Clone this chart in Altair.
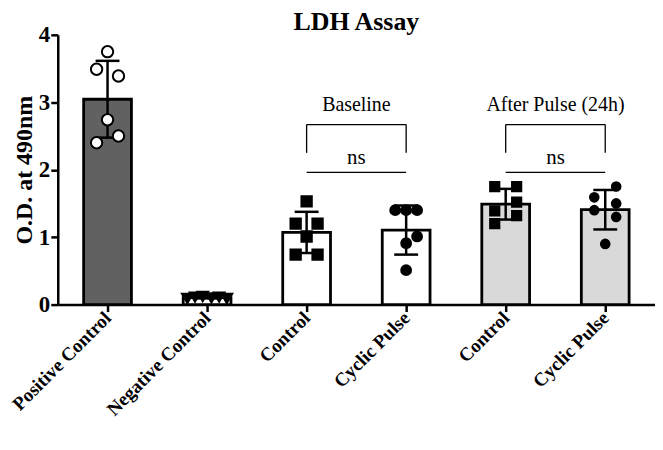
import altair as alt
import pandas as pd

# ---- data ----
groups = ["PC", "NC", "BC", "BP", "AC", "AP"]
group_labels = ["Positive Control", "Negative Control", "Control", "Cyclic Pulse", "Control", "Cyclic Pulse"]
bar_fills = ["#616161", "#ffffff", "#ffffff", "#ffffff", "#d9d9d9", "#d9d9d9"]
point_shapes = ["circle", "triangle-down", "square", "circle", "square", "circle"]
point_fills = ["#ffffff", "#000000", "#000000", "#000000", "#000000", "#000000"]
point_sizes = [130, 75, 160, 140, 160, 140]

pc_vals = [3.75, 3.49, 3.39, 2.74, 2.40, 2.50]
pc_cols = [0, -1, 1, 0, -1, 1]
nc_vals = [0.09, 0.11, 0.12, 0.10, 0.11, 0.09]
nc_cols = [-1.8, -1.1, -0.4, 0.4, 1.1, 1.8]
bc_vals = [1.53, 1.20, 1.20, 1.01, 0.74, 0.74]
bc_cols = [0, -1, 1, 0, -1, 1]
bp_vals = [1.40, 1.40, 1.40, 1.01, 0.91, 0.51]
bp_cols = [-1, 0, 1, 1, 0, 0]
ac_vals = [1.75, 1.75, 1.52, 1.39, 1.32, 1.20]
ac_cols = [-1, 1, 1, -1, 1, -1]
ap_vals = [1.75, 1.59, 1.50, 1.40, 1.30, 0.90]
ap_cols = [1, -1, 1, -1, 1, 0]

# significance brackets (between group indices)
brk_from = [2, 4]
brk_to = [3, 5]
brk_names = ["Baseline", "After Pulse (24h)"]
brk_top = 2.67
brk_leg = 2.25
ns_line = 1.96
ns_text_y = 2.17
name_text_y = 2.96

FONT = "Liberation Serif"
JITTER = 0.11      # horizontal spacing of point columns, in group units
HALF_BAR = 0.24    # half bar width, in group units
HALF_CAP = 0.12    # half error-cap width, in group units

all_vals = [pc_vals, nc_vals, bc_vals, bp_vals, ac_vals, ap_vals]
all_cols = [pc_cols, nc_cols, bc_cols, bp_cols, ac_cols, ap_cols]
rows = []
for i, (g, vs, cs) in enumerate(zip(groups, all_vals, all_cols)):
    for v, c in zip(vs, cs):
        rows.append({"group": g, "idx": i, "value": v, "col": c})
df = pd.DataFrame(rows)

labels_js = "[" + ",".join(f"'{l}'" for l in group_labels) + "]"

xscale = alt.Scale(domain=[-0.5, len(groups) - 0.5], nice=False, zero=False)
yscale = alt.Scale(domain=[0, 4], nice=False)

x_axis = alt.Axis(title=None, values=list(range(len(groups))), labelExpr=f"{labels_js}[datum.value]",
                  labelAngle=-45, labelAlign="right", labelBaseline="middle", labelFont=FONT,
                  labelFontSize=19, labelFontWeight="bold", labelColor="black", labelPadding=3,
                  tickSize=7, tickWidth=2.5, tickColor="black", domainWidth=2.5,
                  domainColor="black", grid=False, labelOverlap=False)
y_axis = alt.Axis(title="O.D. at 490nm", values=[0, 1, 2, 3, 4], format="d",
                  titleFont=FONT, titleFontSize=24, titleFontWeight="bold", titleColor="black",
                  titlePadding=2, labelFont=FONT, labelFontSize=23, labelFontWeight="bold",
                  labelColor="black", labelPadding=1, tickSize=7, tickWidth=2.5,
                  tickColor="black", domainWidth=2.5, domainColor="black", grid=False)

base = alt.Chart(df)

stats = base.transform_aggregate(
    mean="mean(value)", sd="stdev(value)", groupby=["idx", "group"]
).transform_calculate(
    lo="datum.mean - datum.sd", hi="datum.mean + datum.sd",
    bl=f"datum.idx - {HALF_BAR}", br=f"datum.idx + {HALF_BAR}",
    cl=f"datum.idx - {HALF_CAP}", cr=f"datum.idx + {HALF_CAP}",
)

bars = stats.mark_bar(stroke="black", strokeWidth=2.8).encode(
    x=alt.X("bl:Q", scale=xscale, axis=x_axis),
    x2="br:Q",
    y=alt.Y("mean:Q", scale=yscale, axis=y_axis),
    y2=alt.datum(0),
    fill=alt.Fill("group:N", scale=alt.Scale(domain=groups, range=bar_fills), legend=None),
)
err_stem = stats.mark_rule(strokeWidth=2.5, color="black").encode(
    x=alt.X("idx:Q", scale=xscale), y=alt.Y("lo:Q", scale=yscale), y2="hi:Q")
err_top = stats.mark_rule(strokeWidth=2.5, color="black").encode(
    x=alt.X("cl:Q", scale=xscale), x2="cr:Q", y=alt.Y("hi:Q", scale=yscale))
err_bot = stats.mark_rule(strokeWidth=2.5, color="black").encode(
    x=alt.X("cl:Q", scale=xscale), x2="cr:Q", y=alt.Y("lo:Q", scale=yscale))

points = base.transform_calculate(
    px=f"datum.idx + datum.col * {JITTER}"
).mark_point(filled=True, stroke="black", strokeWidth=2, opacity=1).encode(
    x=alt.X("px:Q", scale=xscale),
    y=alt.Y("value:Q", scale=yscale),
    shape=alt.Shape("group:N", scale=alt.Scale(domain=groups, range=point_shapes), legend=None),
    fill=alt.Fill("group:N", scale=alt.Scale(domain=groups, range=point_fills), legend=None),
    size=alt.Size("group:N", scale=alt.Scale(domain=groups, range=point_sizes), legend=None),
)

bdf = pd.DataFrame({"a": brk_from, "b": brk_to, "name": brk_names})
bb = alt.Chart(bdf).transform_calculate(
    top=f"{brk_top}", leg=f"{brk_leg}", ns=f"{ns_line}", nsy=f"{ns_text_y}",
    namey=f"{name_text_y}", mid="(datum.a + datum.b) / 2", nstext="'ns'"
)
top_line = bb.mark_rule(strokeWidth=1.3, color="black").encode(
    x=alt.X("a:Q", scale=xscale), x2="b:Q", y=alt.Y("top:Q", scale=yscale))
leg_a = bb.mark_rule(strokeWidth=1.3, color="black").encode(
    x=alt.X("a:Q", scale=xscale), y=alt.Y("leg:Q", scale=yscale), y2="top:Q")
leg_b = bb.mark_rule(strokeWidth=1.3, color="black").encode(
    x=alt.X("b:Q", scale=xscale), y=alt.Y("leg:Q", scale=yscale), y2="top:Q")
ns_rule = bb.mark_rule(strokeWidth=1.3, color="black").encode(
    x=alt.X("a:Q", scale=xscale), x2="b:Q", y=alt.Y("ns:Q", scale=yscale))
ns_txt = bb.mark_text(font=FONT, fontSize=21, color="black", baseline="middle").encode(
    x=alt.X("mid:Q", scale=xscale), y=alt.Y("nsy:Q", scale=yscale), text="nstext:N")
name_txt = bb.mark_text(font=FONT, fontSize=20, color="black", baseline="middle").encode(
    x=alt.X("mid:Q", scale=xscale), y=alt.Y("namey:Q", scale=yscale), text="name:N")

chart = alt.layer(
    bars, err_stem, err_top, err_bot, points, top_line, leg_a, leg_b, ns_rule, ns_txt, name_txt
).resolve_scale(fill="independent").properties(
    width=600, height=271,
    title=alt.TitleParams("LDH Assay", font=FONT, fontSize=26, fontWeight="bold", color="black",
                          anchor="middle", frame="group", offset=-11),
    padding={"left": 0, "top": 0, "right": 0, "bottom": 0},
).configure_view(stroke=None)

chart.save("out.html", embed_options={"renderer": "svg", "actions": False})
